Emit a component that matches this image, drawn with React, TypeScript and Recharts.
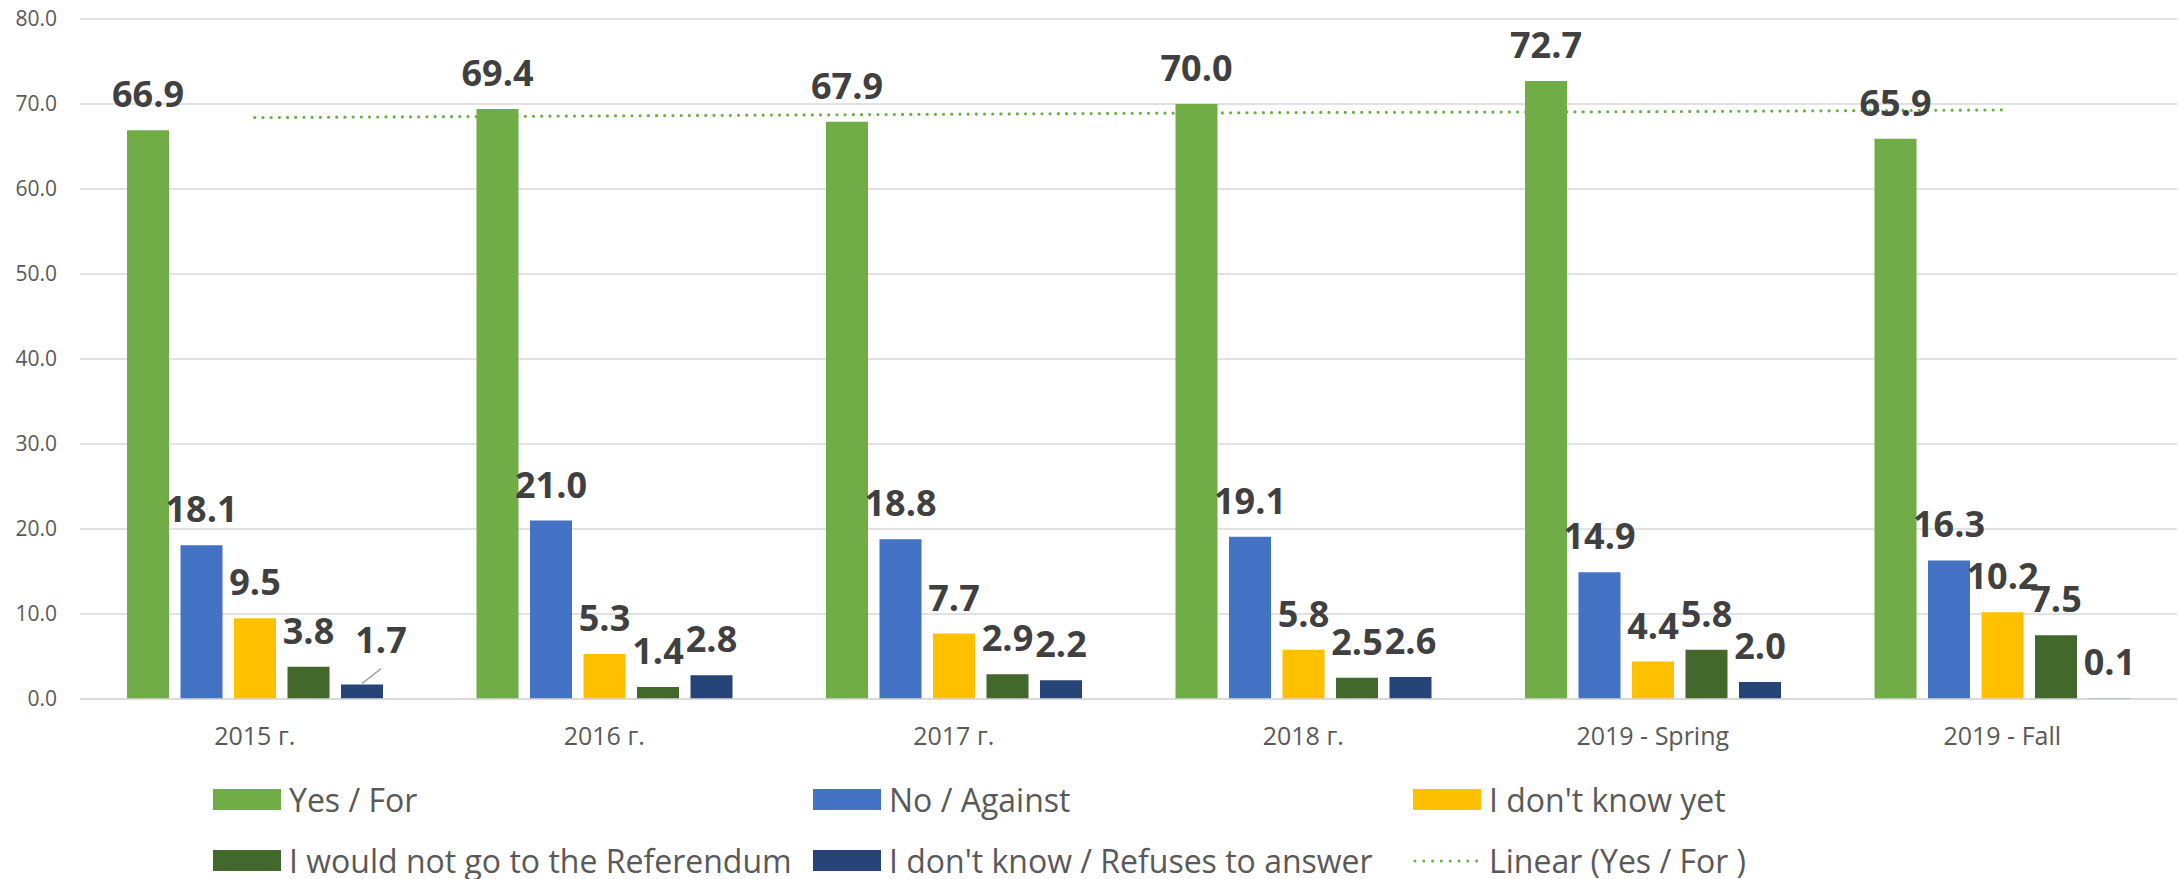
import {
  ComposedChart,
  Bar,
  Line,
  XAxis,
  YAxis,
  CartesianGrid,
  Legend,
  LabelList,
} from "recharts";

const categories = ["2015 г.", "2016 г.", "2017 г.", "2018 г.", "2019 - Spring", "2019 - Fall"];
const yesFor = [66.9, 69.4, 67.9, 70.0, 72.7, 65.9];
const noAgainst = [18.1, 21.0, 18.8, 19.1, 14.9, 16.3];
const dontKnowYet = [9.5, 5.3, 7.7, 5.8, 4.4, 10.2];
const wouldNotGo = [3.8, 1.4, 2.9, 2.5, 5.8, 7.5];
const refuses = [1.7, 2.8, 2.2, 2.6, 2.0, 0.1];
// dotted linear trend of Yes / For
const yesTrend = [68.4, 68.6, 68.8, 69.0, 69.1, 69.3];
const yTicks = [0, 10, 20, 30, 40, 50, 60, 70, 80];

const series = [
  { key: "yes", name: "Yes / For", color: "#70AD47", values: yesFor },
  { key: "no", name: "No / Against", color: "#4472C4", values: noAgainst },
  { key: "dk", name: "I don't know yet", color: "#FFC000", values: dontKnowYet },
  { key: "notgo", name: "I would not go to the Referendum", color: "#43682B", values: wouldNotGo },
  { key: "refuse", name: "I don't know / Refuses to answer", color: "#264478", values: refuses },
];
const trendName = "Linear (Yes / For )";
const legendOrder = [...series.map((s) => s.name), trendName];

const data = categories.map((cat, i) => {
  const row: Record<string, string | number> = { cat, trend: yesTrend[i] };
  series.forEach((s) => (row[s.key] = s.values[i]));
  return row;
});

const FONT = "'Open Sans', sans-serif";
const TEXT = "#595959";

function renderLabel(props: any, seriesKey: string) {
  const { x, y, width, value, index } = props;
  const cx = x + width / 2;
  // the first small navy label was pulled aside in the original, with a leader line
  if (seriesKey === "refuse" && index === 0) {
    return (
      <g>
        <line x1={cx} y1={y - 1} x2={cx + 19} y2={y - 16} stroke="#a6a6a6" strokeWidth={1.5} />
        <text x={cx + 19} y={y - 32} textAnchor="middle" fontFamily={FONT} fontWeight={700} fontSize={36} fill="#404040">
          {Number(value).toFixed(1)}
        </text>
      </g>
    );
  }
  return (
    <text x={cx} y={y - 23} textAnchor="middle" fontFamily={FONT} fontWeight={700} fontSize={36} fill="#404040">
      {Number(value).toFixed(1)}
    </text>
  );
}

function LegendGrid({ payload }: any) {
  const items = [...(payload || [])].sort(
    (a: any, b: any) => legendOrder.indexOf(a.value) - legendOrder.indexOf(b.value)
  );
  return (
    <div
      style={{
        display: "grid",
        gridTemplateColumns: "600px 600px 600px",
        gridAutoRows: "61px",
        fontFamily: FONT,
        fontSize: 32,
        color: TEXT,
      }}
    >
      {items.map((entry: any) => (
        <div key={entry.value} style={{ display: "flex", alignItems: "center", whiteSpace: "nowrap" }}>
          {entry.type === "line" ? (
            <svg width={68} height={21} style={{ marginRight: 8 }}>
              <line
                x1={2}
                y1={11}
                x2={64}
                y2={11}
                stroke={entry.color}
                strokeWidth={3}
                strokeDasharray="0 8.8"
                strokeLinecap="round"
              />
            </svg>
          ) : (
            <span style={{ width: 68, height: 21, background: entry.color, marginRight: 8, display: "inline-block" }} />
          )}
          <span>{entry.value}</span>
        </div>
      ))}
    </div>
  );
}

export default function App() {
  return (
    <div style={{ position: "absolute", left: 0, top: 0, width: 2178, height: 879, background: "#fff" }}>
      <ComposedChart
        width={2178}
        height={879}
        data={data}
        margin={{ top: 19, right: 1, left: 0, bottom: 140 }}
        barGap={11.5}
      >
        <CartesianGrid vertical={false} stroke="#d9d9d9" strokeWidth={1.5} />
        <XAxis
          dataKey="cat"
          height={40}
          tickLine={false}
          axisLine={{ stroke: "#d9d9d9", strokeWidth: 1.5 }}
          tickMargin={22}
          tick={{ fontFamily: FONT, fontSize: 25, fill: TEXT }}
          interval={0}
        />
        <YAxis
          width={80}
          domain={[0, 80]}
          ticks={yTicks}
          tickLine={false}
          axisLine={false}
          tickMargin={17}
          tick={{ fontFamily: FONT, fontSize: 21, fill: TEXT }}
          tickFormatter={(v: number) => v.toFixed(1)}
        />
        {series.map((s) => (
          <Bar key={s.key} dataKey={s.key} name={s.name} fill={s.color} barSize={42} isAnimationActive={false}>
            <LabelList dataKey={s.key} content={(p: any) => renderLabel(p, s.key)} />
          </Bar>
        ))}
        <Line
          dataKey="trend"
          name={trendName}
          stroke="#70AD47"
          strokeWidth={3.2}
          strokeDasharray="0 8.2"
          strokeLinecap="round"
          dot={false}
          activeDot={false}
          legendType="line"
          isAnimationActive={false}
        />
        <Legend
          layout="horizontal"
          verticalAlign="middle"
          align="center"
          content={<LegendGrid />}
          wrapperStyle={{ top: 769, left: 213, width: 1900, margin: 0 }}
        />
      </ComposedChart>
    </div>
  );
}
